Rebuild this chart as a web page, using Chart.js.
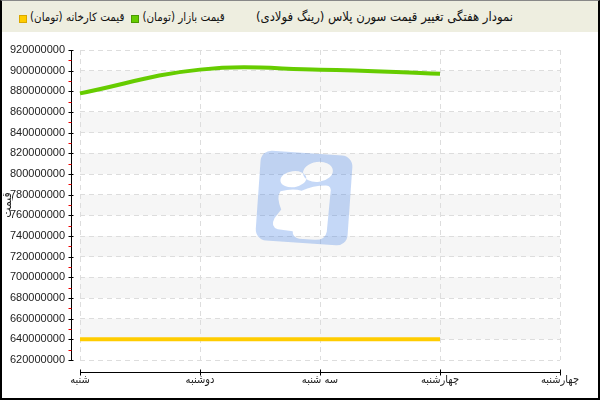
<!DOCTYPE html>
<html>
<head>
<meta charset="utf-8">
<script src="https://cdn.jsdelivr.net/npm/chart.js@4/dist/chart.umd.min.js"></script>
<style>
  body { margin: 0; background: #fff; }
  #wrap { position: relative; width: 600px; height: 400px; }
  #chart { position: absolute; left: 0; top: 0; }
  #head { position: absolute; left: 0; top: 0; width: 600px; height: 32px; background: #eeeee0; font: 11.5px "DejaVu Sans Condensed", "DejaVu Sans", sans-serif; color: #111; }
  #title { position: absolute; right: 87px; top: 9px; direction: rtl; white-space: nowrap; font-size: 13px; }
  #legend { position: absolute; left: 20px; top: 10px; display: flex; align-items: center; white-space: nowrap; }
  #legend .sq { display: inline-block; width: 6px; height: 6px; margin-right: 4px; margin-top: 3px; }
  #legend .txt { direction: rtl; unicode-bidi: isolate; margin-right: 8px; }
  #frame { position: absolute; left: 0; top: 0; width: 600px; height: 400px; box-sizing: border-box; border: 2px solid #000; border-top: 1px solid #888; pointer-events: none; }
</style>
</head>
<body>
<div id="wrap">
  <canvas id="chart" width="600" height="400"></canvas>
  <div id="head"><div id="legend"></div><div id="title"></div></div>
  <div id="frame"></div>
</div>
<script>
const chartTitle = "نمودار هفتگی تغییر قیمت سورن پلاس (رینگ فولادی)";
const days = ["شنبه", "دوشنبه", "سه شنبه", "چهارشنبه", "چهارشنبه"];
const marketPrice = [878000000, 901000000, 901000000, 897000000, null];
const factoryPrice = [640000000, 640000000, 640000000, 640000000, null];
const seriesNames = ["قیمت بازار (تومان)", "قیمت کارخانه (تومان)"];
const seriesColors = ["#66cc00", "#ffcc00"];
const yTitle = "قیمت";
const yMin = 620000000;
const yMax = 920000000;
const yStep = 20000000;

document.getElementById("title").textContent = chartTitle;

// legend: drawn left to right, last series first
const legendDiv = document.getElementById("legend");
for (let i = seriesNames.length - 1; i >= 0; i--) {
  const sq = document.createElement("span");
  sq.className = "sq";
  sq.style.background = seriesColors[i];
  sq.style.outline = "1px solid " + (i === 0 ? "#4a9900" : "#d9a800");
  const txt = document.createElement("span");
  txt.className = "txt";
  txt.textContent = seriesNames[i];
  legendDiv.appendChild(sq);
  legendDiv.appendChild(txt);
}

// grey bands behind the grid
const bandsPlugin = {
  id: "bands",
  beforeDraw(chart) {
    const { ctx, chartArea, scales: { y } } = chart;
    ctx.save();
    ctx.fillStyle = "#f6f6f6";
    for (let v = yMin + yStep; v < yMax; v += yStep * 2) {
      const top = y.getPixelForValue(v + yStep);
      const bottom = y.getPixelForValue(v);
      ctx.fillRect(chartArea.left, top, chartArea.right - chartArea.left, bottom - top);
    }
    ctx.restore();
  }
};

// faded logo in the middle
const logoPlugin = {
  id: "logo",
  beforeDatasetsDraw(chart) {
    const { ctx, chartArea } = chart;
    const cx = (chartArea.left + chartArea.right) / 2 - 16;
    const cy = (chartArea.top + chartArea.bottom) / 2 - 6;
    ctx.save();
    ctx.translate(cx, cy);
    ctx.rotate(0.07);
    ctx.beginPath();
    ctx.roundRect(-46, -46, 92, 90, 11);
    ctx.moveTo(1, -18);
    ctx.ellipse(-12, -19, 13, 8, -0.2, 0, Math.PI * 2);
    ctx.moveTo(27, -28);
    ctx.ellipse(12, -28, 15, 10, -0.2, 0, Math.PI * 2);
    ctx.moveTo(-24, -6);
    ctx.quadraticCurveTo(-12, -10, -3, -8);
    ctx.quadraticCurveTo(8, -14, 21, -15);
    ctx.quadraticCurveTo(27, -15, 26, -8);
    ctx.lineTo(25, 31);
    ctx.quadraticCurveTo(24, 40, 13, 40);
    ctx.lineTo(-2, 40);
    ctx.quadraticCurveTo(-9, 39, -9, 33);
    ctx.lineTo(-24, 32);
    ctx.quadraticCurveTo(-32, 30, -28, 21);
    ctx.lineTo(-22, 12);
    ctx.quadraticCurveTo(-28, 0, -24, -6);
    ctx.closePath();
    ctx.fillStyle = "rgba(63,127,230,0.3)";
    ctx.fill("evenodd");
    ctx.restore();
  }
};

// axis lines drawn a little away from the plot, with red minor ticks
const axesPlugin = {
  id: "axes",
  afterDraw(chart) {
    const { ctx, chartArea, scales: { x, y } } = chart;
    ctx.save();
    ctx.lineWidth = 1;
    ctx.strokeStyle = "#000";
    const ax = chartArea.left - 9 + 0.5;
    ctx.beginPath();
    ctx.moveTo(ax, chartArea.top);
    ctx.lineTo(ax, chartArea.bottom + 1);
    y.ticks.forEach(t => {
      const py = Math.round(y.getPixelForValue(t.value)) + 0.5;
      ctx.moveTo(ax - 3, py);
      ctx.lineTo(ax + 2, py);
    });
    const ay = chartArea.bottom + 12 + 0.5;
    ctx.moveTo(chartArea.left, ay);
    ctx.lineTo(chartArea.right + 1, ay);
    x.ticks.forEach((t, i) => {
      const px = Math.round(x.getPixelForTick(i)) + 0.5;
      ctx.moveTo(px, ay - 3);
      ctx.lineTo(px, ay + 3);
    });
    ctx.stroke();

    ctx.strokeStyle = "#ee0000";
    ctx.beginPath();
    for (let v = yMin + yStep / 2; v < yMax; v += yStep) {
      const py = Math.round(y.getPixelForValue(v)) + 0.5;
      ctx.moveTo(ax - 3, py);
      ctx.lineTo(ax, py);
    }
    ctx.stroke();
    ctx.restore();
  }
};

new Chart(document.getElementById("chart"), {
  type: "line",
  data: {
    labels: days,
    datasets: [
      {
        label: seriesNames[0],
        data: marketPrice,
        borderColor: seriesColors[0],
        borderWidth: 4,
        pointRadius: 0,
        tension: 0.4,
        fill: false
      },
      {
        label: seriesNames[1],
        data: factoryPrice,
        borderColor: seriesColors[1],
        borderWidth: 4,
        pointRadius: 0,
        tension: 0.4,
        fill: false
      }
    ]
  },
  options: {
    responsive: false,
    animation: false,
    layout: { padding: { top: 50, right: 40, bottom: 0, left: 0 } },
    plugins: {
      legend: { display: false },
      title: { display: false },
      tooltip: { enabled: false }
    },
    scales: {
      x: {
        offset: false,
        grid: { color: "#dddddd", drawTicks: false },
        border: { display: false, dash: [5, 4] },
        ticks: {
          padding: 14,
          maxRotation: 0,
          autoSkip: false,
          color: "#222",
          font: { family: "DejaVu Sans Condensed", size: 11 }
        },
        afterFit(scale) { scale.height = 40; }
      },
      y: {
        min: yMin,
        max: yMax,
        grid: { color: "#dddddd", drawTicks: false },
        border: { display: false, dash: [5, 4] },
        ticks: {
          stepSize: yStep,
          padding: 15,
          color: "#222",
          font: { family: "Liberation Sans", size: 11 },
          callback: v => String(v)
        },
        title: {
          display: true,
          text: yTitle,
          color: "#222",
          padding: { top: 1, bottom: 0 },
          font: { family: "DejaVu Sans Condensed", size: 12 }
        },
        afterFit(scale) { scale.width = 80; }
      }
    }
  },
  plugins: [bandsPlugin, logoPlugin, axesPlugin]
});
</script>
</body>
</html>
